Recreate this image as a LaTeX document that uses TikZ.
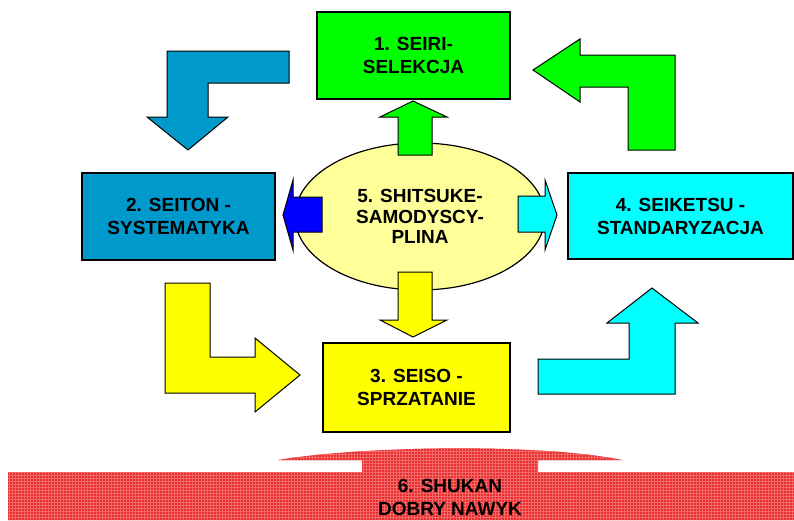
\documentclass[tikz,border=0pt]{standalone}
\usepackage{fontspec}
\setmainfont{Liberation Sans}
\usepackage{tikz}
\usetikzlibrary {shapes.geometric, patterns}
\definecolor{seirigreen}{RGB}{0,255,0}
\definecolor{seitonblue}{RGB}{0,153,204}
\definecolor{seisoyellow}{RGB}{255,255,0}
\definecolor{seiketsucyan}{RGB}{0,255,255}
\definecolor{shitsukecream}{RGB}{255,255,153}
\definecolor{arrowblue}{RGB}{0,0,255}
\definecolor{shukanred}{RGB}{232,45,45}
\definecolor{shukangrid}{RGB}{244,105,105}
\newcommand*{\boxfont}{\fontsize{19}{23}\selectfont\bfseries}

\begin{document}
\begin{tikzpicture}[
      x=1pt, y=-1pt,
      box/.style={draw, line width=1.2pt, inner sep=0pt, font=\boxfont, align=center},
      blockarrow/.style={draw, line width=1pt, line join=miter},
      ]
      \useasboundingbox (0,0) rectangle (794,520);

      % the bottom banner
      \fill[shukanred, postaction={pattern=grid, pattern color=shukangrid}]
        (8,472) -- (362,472) -- (362,460) -- (278,460)
        .. controls (360,446) and (540,443) .. (622,460)
        -- (538,460) -- (538,472) -- (794,472) -- (794,520) -- (8,520) -- cycle;
      \node[font=\boxfont, align=center] (shukan) at (450,497) {6. SHUKAN\\DOBRY NAWYK};

      % the five steps
      \node[box, fill=seirigreen, minimum width=193pt, minimum height=87pt] (seiri) at (413.5,55.5) {1. SEIRI-\\SELEKCJA};
      \node[box, fill=seitonblue, minimum width=193pt, minimum height=87pt] (seiton) at (178.5,216.5) {2. SEITON -\\SYSTEMATYKA};
      \node[box, fill=seisoyellow, minimum width=187pt, minimum height=89pt] (seiso) at (416.5,387.5) {3. SEISO -\\SPRZATANIE};
      \node[box, fill=seiketsucyan, minimum width=225pt, minimum height=86pt] (seiketsu) at (680.5,216) {4. SEIKETSU -\\STANDARYZACJA};
      \node[ellipse, draw, line width=1.2pt, fill=shitsukecream, inner sep=0pt,
            minimum width=250pt, minimum height=147pt, font=\fontsize{19}{20.5}\selectfont\bfseries, align=center]
            (shitsuke) at (420,216.5) {5. SHITSUKE-\\SAMODYSCY-\\PLINA};

      % arrows out of the ellipse
      \draw[blockarrow, fill=seirigreen] (398,155) -- (398,117) -- (380,117) -- (413,101) -- (447,117) -- (432,117) -- (432,155) -- cycle;
      \draw[blockarrow, fill=seisoyellow] (398,272) -- (398,320) -- (380,320) -- (413,337) -- (447,320) -- (432,320) -- (432,272) -- cycle;
      \draw[blockarrow, fill=arrowblue] (322,197) -- (293,197) -- (293,180) -- (283,215) -- (293,250) -- (293,232) -- (322,232) -- cycle;
      \draw[blockarrow, fill=seiketsucyan] (518,196) -- (545,196) -- (545,180) -- (557,215) -- (545,250) -- (545,232) -- (518,232) -- cycle;

      % bent arrows round the cycle
      \draw[blockarrow, fill=seitonblue] (289,51) -- (167,51) -- (167,117) -- (147,117) -- (188,150) -- (228,117) -- (208,117) -- (208,83) -- (289,83) -- cycle;
      \draw[blockarrow, fill=seisoyellow] (165,283) -- (210,283) -- (210,357) -- (255,357) -- (255,338) -- (300,375) -- (255,412) -- (255,393) -- (165,393) -- cycle;
      \draw[blockarrow, fill=seiketsucyan] (538,359) -- (629,359) -- (629,323) -- (607,323) -- (652,288) -- (698,323) -- (675,323) -- (675,394) -- (538,394) -- cycle;
      \draw[blockarrow, fill=seirigreen] (628,150) -- (675,150) -- (675,55) -- (580,55) -- (580,39) -- (533,70) -- (580,102) -- (580,87) -- (628,87) -- cycle;
    \end{tikzpicture}
\end{document}
